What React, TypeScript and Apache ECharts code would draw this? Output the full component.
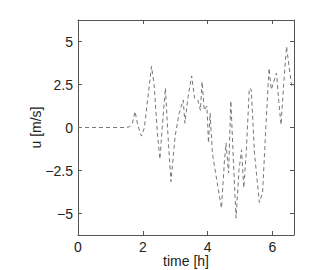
import React, { useEffect, useRef } from "react";
import * as echarts from "echarts";

const timeH = [0, 1.5, 1.6, 1.68, 1.76, 1.85, 1.96, 2.05, 2.27, 2.35, 2.45, 2.53, 2.6, 2.7, 2.78, 2.87, 3.0, 3.12, 3.25, 3.3, 3.4, 3.51, 3.6, 3.7, 3.78, 3.83, 3.9, 3.98, 4.03, 4.08, 4.15, 4.25, 4.43, 4.52, 4.57, 4.65, 4.72, 4.8, 4.88, 4.97, 5.05, 5.12, 5.2, 5.29, 5.35, 5.45, 5.6, 5.7, 5.8, 5.9, 5.97, 6.05, 6.13, 6.2, 6.27, 6.35, 6.44, 6.52, 6.6, 6.67];
const uMs = [0, 0, 0.05, 0.25, 0.93, 0.1, -0.5, 0, 3.55, 2.5, -0.3, -1.84, 0, 2.29, -0.5, -3.14, -0.5, 0.8, 1.6, 0.25, 1.8, 3.0, 1.7, 1.6, 1.0, 2.67, 1.0, 1.25, -0.9, 0.83, -1.5, -2.65, -4.69, -2.0, -0.9, -2.65, 1.55, -2.0, -5.27, -2.5, -1.3, -3.5, -1.3, 2.29, 2.2, -1.5, -4.36, -3.8, 0, 3.45, 2.2, 2.7, 3.16, 1.5, 0.16, 2.5, 4.71, 3.5, 2.4, 2.5];
const xTicks = [0, 2, 4, 6];
const yTicks = [-5, -2.5, 0, 2.5, 5];

export default function App() {
  const ref = useRef<HTMLDivElement>(null);
  useEffect(() => {
    if (!ref.current) return;
    const chart = echarts.init(ref.current, undefined, { renderer: "svg" });
    const font = "'Liberation Sans', Arial, sans-serif";
    const axisColor = "#555";
    const fmt = (v: number) => String(v).replace("-", "\u2212");
    chart.setOption({
      animation: false,
      grid: { left: 78, right: 20, top: 20, bottom: 35, containLabel: false, outerBoundsMode: "none" },
      xAxis: [
        {
          type: "value",
          min: 0,
          max: 6.67,
          position: "bottom",
          name: "time [h]",
          nameLocation: "middle",
          nameGap: 19,
          nameMoveOverlap: false,
          nameTextStyle: { fontFamily: font, fontSize: 14, color: "#222" },
          axisLine: { show: true, onZero: false, lineStyle: { color: axisColor, width: 1 } },
          axisTick: { show: true, inside: true, length: 4, customValues: xTicks, lineStyle: { color: axisColor } },
          axisLabel: { customValues: xTicks, fontFamily: font, fontSize: 14, color: "#222", margin: 5, formatter: fmt },
          splitLine: { show: false },
        },
        {
          type: "value",
          min: 0,
          max: 6.67,
          position: "top",
          axisLine: { show: true, onZero: false, lineStyle: { color: axisColor, width: 1 } },
          axisTick: { show: true, inside: true, length: 4, customValues: xTicks, lineStyle: { color: axisColor } },
          axisLabel: { show: false },
          splitLine: { show: false },
        },
      ],
      yAxis: [
        {
          type: "value",
          min: -6.25,
          max: 6.25,
          position: "left",
          name: "u [m/s]",
          nameLocation: "middle",
          nameGap: 35,
          nameMoveOverlap: false,
          nameTextStyle: { fontFamily: font, fontSize: 14, color: "#222" },
          axisLine: { show: true, onZero: false, lineStyle: { color: axisColor, width: 1 } },
          axisTick: { show: true, inside: true, length: 4, customValues: yTicks, lineStyle: { color: axisColor } },
          axisLabel: { customValues: yTicks, fontFamily: font, fontSize: 14, color: "#222", margin: 5, formatter: fmt },
          splitLine: { show: false },
        },
        {
          type: "value",
          min: -6.25,
          max: 6.25,
          position: "right",
          axisLine: { show: true, onZero: false, lineStyle: { color: axisColor, width: 1 } },
          axisTick: { show: true, inside: true, length: 4, customValues: yTicks, lineStyle: { color: axisColor } },
          axisLabel: { show: false },
          splitLine: { show: false },
        },
      ],
      series: [
        {
          type: "line",
          xAxisIndex: 0,
          yAxisIndex: 0,
          data: timeH.map((t, i) => [t, uMs[i]]),
          showSymbol: false,
          symbol: "none",
          clip: true,
          lineStyle: { color: "#777", width: 1, type: [4, 3] },
        },
      ],
    });
    return () => chart.dispose();
  }, []);
  return <div ref={ref} style={{ width: 314, height: 270, position: "absolute", left: 0, top: 0 }} />;
}
